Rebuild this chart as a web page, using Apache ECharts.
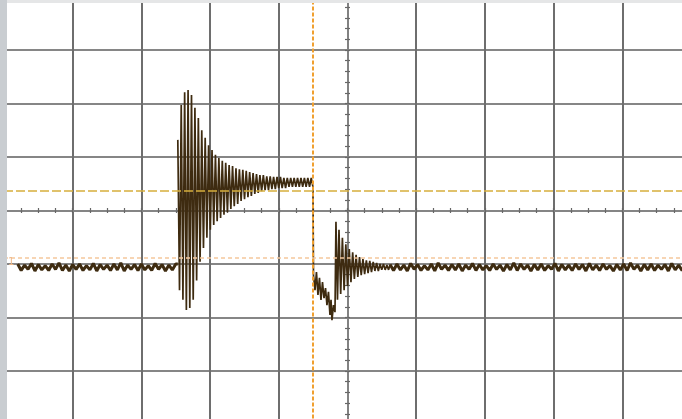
<!DOCTYPE html>
<html>
<head>
<meta charset="utf-8">
<script src="https://cdn.jsdelivr.net/npm/echarts@6/dist/echarts.min.js"></script>
<style>
html,body{margin:0;padding:0;background:#fff;}
#chart{width:682px;height:419px;}
</style>
</head>
<body>
<div id="chart"></div>
<script>
// ---- data (units: screen divisions) ----
const baseStep = 0.05;
const baseLeftStart = -4.80;
const baseLeft = [-1.00,-1.12,-1.02,-1.10,-0.99,-1.13,-1.01,-1.11,-1.03,-1.12,-1.00,-1.10,-0.98,-1.12,-1.02,-1.13,-1.01,-1.10,-1.00,-1.12,-1.03,-1.11,-0.99,-1.13,-1.01,-1.10,-1.02,-1.12,-1.00,-1.11,-0.98,-1.13,-1.02,-1.10,-1.01,-1.12,-1.00,-1.11,-1.03,-1.12,-0.99,-1.10,-1.01,-1.13,-1.02,-1.11,-1.00];

const halfStep = 0.0249;
const burstStart = -2.47;
const burstTop = [1.32,1.97,2.21,2.25,2.16,1.92,1.73,1.50,1.36,1.22,1.13,1.04,0.98,0.93,0.89,0.85,0.83,0.79,0.77,0.76,0.74,0.72,0.70,0.68,0.66,0.66,0.64,0.64,0.63,0.63,0.63,0.61,0.61,0.61,0.61,0.61,0.61,0.61,0.61,0.61];
const burstBottom = [-1.49,-1.67,-1.86,-1.82,-1.67,-1.31,-0.96,-0.70,-0.51,-0.36,-0.27,-0.20,-0.14,-0.08,-0.03,0.03,0.08,0.12,0.18,0.21,0.25,0.27,0.31,0.33,0.36,0.38,0.38,0.40,0.40,0.42,0.42,0.42,0.44,0.44,0.44,0.44,0.44,0.44,0.44,0.44];

const dropTime = [-0.495,-0.473,-0.452,-0.430,-0.408,-0.386,-0.364,-0.342,-0.320,-0.299,-0.277,-0.255,-0.240,-0.226,-0.204,-0.182,-0.168,-0.146];
const dropValue = [-1.21,-1.49,-1.15,-1.58,-1.26,-1.67,-1.34,-1.64,-1.45,-1.77,-1.52,-1.95,-1.67,-2.05,-1.77,-1.90,-0.21,-1.67];

const ringStart = -0.124;
const ringTop = [-0.36,-0.51,-0.63,-0.72,-0.78,-0.83,-0.87,-0.91,-0.93,-0.94,-0.96,-0.98,-1.00,-1.00,-1.02];
const ringBottom = [-1.56,-1.49,-1.41,-1.34,-1.28,-1.24,-1.21,-1.19,-1.17,-1.15,-1.13,-1.13,-1.11,-1.11,-1.11];

const baseRightStart = 0.62;
const baseRight = [-1.01,-1.12,-1.00,-1.11,-1.02,-1.13,-0.99,-1.10,-1.01,-1.12,
-1.03,-1.11,-1.00,-1.13,-0.98,-1.10,-1.02,-1.12,-1.01,-1.11,
-1.00,-1.13,-1.02,-1.10,-0.99,-1.12,-1.01,-1.11,-1.03,-1.12,
-1.00,-1.10,-1.02,-1.13,-1.01,-1.11,-0.98,-1.12,-1.00,-1.10,
-1.02,-1.13,-1.01,-1.11,-1.00,-1.12,-1.03,-1.10,-0.99,-1.13,
-1.01,-1.11,-1.02,-1.12,-1.00,-1.10,-1.01,-1.13,-0.99,-1.11,
-1.02,-1.12,-1.00,-1.10,-1.03,-1.13,-1.01,-1.11,-1.00,-1.12,
-0.98,-1.10,-1.02,-1.13,-1.01,-1.11,-1.00,-1.12,-1.02,-1.10,
-1.01,-1.13,-0.99,-1.11,-1.02,-1.12,-1.00,-1.11];

const cursorTime = -0.5;
const cursorLevel = 0.364;
const triggerLevel = -0.888;
const channelLabel = '1';

// ---- build traces ----
const baseline = [];
baseLeft.forEach((v, i) => baseline.push([baseLeftStart + i * baseStep, v]));
baseline.push([burstStart, baseLeft[baseLeft.length - 1]]);
baseline.push(null);
baseRight.forEach((v, i) => baseline.push([baseRightStart + i * baseStep, v]));

const events = [];
burstTop.forEach((v, i) => {
  events.push([burstStart + (2 * i) * halfStep, v]);
  events.push([burstStart + (2 * i + 1) * halfStep, burstBottom[i]]);
});
dropTime.forEach((t, i) => events.push([t, dropValue[i]]));
ringTop.forEach((v, i) => {
  events.push([ringStart + (2 * i) * halfStep, v]);
  events.push([ringStart + (2 * i + 1) * halfStep, ringBottom[i]]);
});
events.push([baseRightStart, baseRight[0]]);

const tickStyle = {color: '#666', width: 1.2};
function xAx(pos, split) {
  return {type: 'value', min: -5, max: 5, interval: 1, position: pos,
    axisLine: {show: true, onZero: true, onZeroAxisIndex: 0, lineStyle: {color: '#858585', width: 1.5}},
    axisTick: {show: true, length: 2.5, lineStyle: tickStyle},
    minorTick: {show: true, splitNumber: 4, length: 2.5, lineStyle: tickStyle},
    axisLabel: {show: false},
    splitLine: {show: split, lineStyle: {color: '#6e6e6e', width: 2}}};
}
function yAx(pos, split) {
  return {type: 'value', min: -4, max: 4, interval: 1, position: pos,
    axisLine: {show: true, onZero: true, onZeroAxisIndex: 0, lineStyle: {color: '#858585', width: 1.5}},
    axisTick: {show: true, length: 2.5, lineStyle: tickStyle},
    minorTick: {show: true, splitNumber: 5, length: 2.5, lineStyle: tickStyle},
    axisLabel: {show: false},
    splitLine: {show: split, lineStyle: {color: '#868686', width: 2}}};
}

const chart = echarts.init(document.getElementById('chart'), null, {renderer: 'canvas'});
chart.setOption({
  animation: false,
  backgroundColor: '#ffffff',
  grid: {left: 4, right: -9, top: -3.5, bottom: -5.5, containLabel: false, outerBoundsMode: 'none'},
  xAxis: [xAx('bottom', true), xAx('top', false)],
  yAxis: [yAx('left', true), yAx('right', false)],
  graphic: [
    {type: 'rect', left: 0, top: 0, z: 100, shape: {width: 682, height: 3}, style: {fill: '#e5e6e7'}},
    {type: 'rect', left: 0, top: 0, z: 101, shape: {width: 7, height: 419}, style: {fill: '#c9cdd1'}},
    {type: 'text', left: 8, top: 257, z: 50, style: {text: channelLabel, fill: '#efb98a', font: '10px "DejaVu Sans"'}}
  ],
  series: [{
    type: 'line',
    xAxisIndex: 0, yAxisIndex: 0,
    data: baseline,
    connectNulls: false,
    showSymbol: false,
    sampling: null,
    lineStyle: {color: '#3e2b10', width: 3},
    z: 3
  }, {
    type: 'line',
    xAxisIndex: 0, yAxisIndex: 0,
    data: events,
    showSymbol: false,
    sampling: null,
    lineStyle: {color: '#3e2b10', width: 1.7},
    z: 3,
    markLine: {
      silent: true,
      symbol: ['none', 'none'],
      label: {show: false},
      animation: false,
      data: [
        {xAxis: cursorTime, lineStyle: {color: '#f0a030', width: 2, type: [4, 2]}},
        {yAxis: cursorLevel, lineStyle: {color: '#d6ae3c', width: 1.5, type: [9, 3]}},
        {yAxis: triggerLevel, lineStyle: {color: '#f5c89c', width: 1.5, type: [4, 3]}}
      ]
    }
  }]
});
</script>
</body>
</html>
